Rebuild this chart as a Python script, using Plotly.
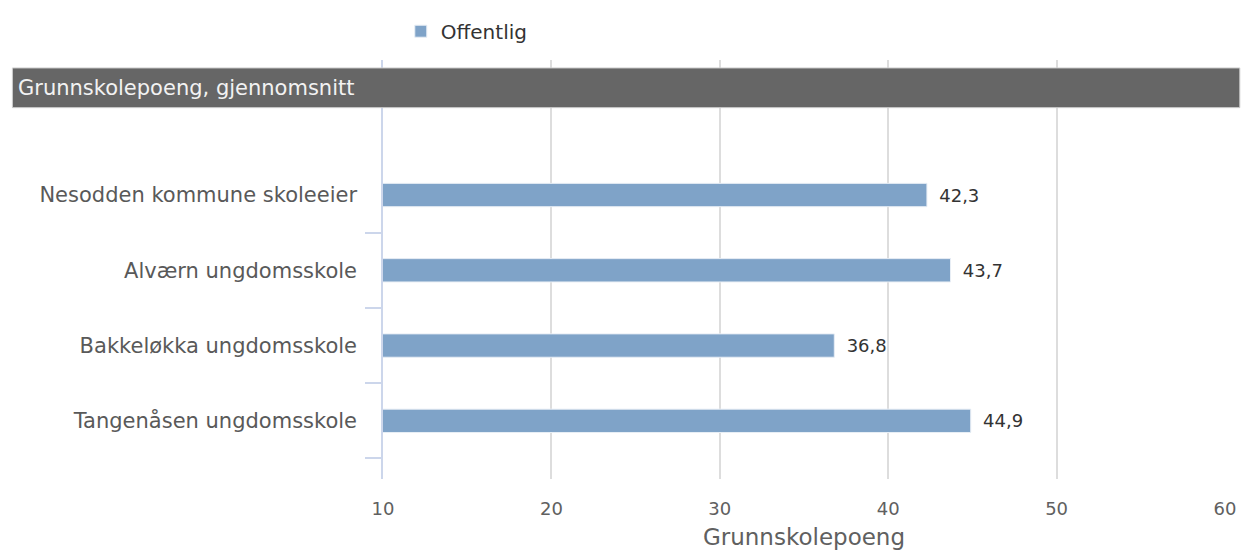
import plotly.graph_objects as go

categories = [
    "Nesodden kommune skoleeier",
    "Alværn ungdomsskole",
    "Bakkeløkka ungdomsskole",
    "Tangenåsen ungdomsskole",
]
values = [42.3, 43.7, 36.8, 44.9]
series_name = "Offentlig"
x_ticks = [10, 20, 30, 40, 50, 60]
header_text = "Grunnskolepoeng, gjennomsnitt"
x_title = "Grunnskolepoeng"

positions = list(range(len(categories)))
boundaries = [p + 0.5 for p in positions]

FONT = "DejaVu Sans"
W, H = 1248, 559
ml, mr, mt, mb = 383, 13, 57, 80
pw, ph = W - ml - mr, H - mt - mb


def px_x(px):
    return (px - ml) / pw


def px_y(py):
    return (H - mb - py) / ph


fig = go.Figure()
fig.add_trace(go.Bar(
    x=values,
    y=positions,
    orientation="h",
    name=series_name,
    width=0.31,
    marker=dict(color="#7fa3c8", line=dict(color="#e8eef5", width=1)),
    texttemplate="\u00a0\u2009%{x:.1f}",
    textposition="outside",
    textfont=dict(family=FONT, size=18, color="#333333"),
    cliponaxis=False,
    hoverinfo="skip",
))

fig.update_layout(
    width=W, height=H,
    margin=dict(l=ml, r=mr, t=mt, b=mb),
    paper_bgcolor="white",
    plot_bgcolor="white",
    separators=",.",
    showlegend=True,
    legend=dict(
        orientation="h",
        x=px_x(401), xanchor="left",
        y=px_y(28), yanchor="middle",
        font=dict(family=FONT, size=20, color="#333333"),
        bgcolor="rgba(0,0,0,0)",
    ),
    xaxis=dict(
        range=[10, 60],
        tickvals=x_ticks,
        tickfont=dict(family=FONT, size=18, color="#606060"),
        showgrid=True,
        gridcolor="#dddddd",
        gridwidth=1.5,
        zeroline=False,
        showline=False,
        ticks="",
        ticklabelstandoff=17,
        title=dict(text=x_title, font=dict(family=FONT, size=23, color="#606060"), standoff=10),
    ),
    yaxis=dict(
        range=[3.773, -1.794],
        tickvals=positions,
        ticktext=categories,
        tickfont=dict(family=FONT, size=21, color="#595959"),
        ticks="",
        showgrid=False,
        zeroline=False,
        showline=True,
        linecolor="#ccd6eb",
        linewidth=1.5,
        ticklabelstandoff=20,
        minor=dict(
            tickvals=boundaries,
            ticks="outside",
            ticklen=16,
            tickcolor="#ccd6eb",
            tickwidth=1.5,
            showgrid=False,
        ),
    ),
    shapes=[dict(
        type="rect", xref="paper", yref="paper",
        x0=px_x(8), x1=px_x(1250), y0=px_y(105), y1=px_y(65),
        fillcolor="#666666", line=dict(color="#cfcfcf", width=1),
        layer="above",
    )],
    annotations=[dict(
        text=header_text, xref="paper", yref="paper",
        x=px_x(12), y=px_y(85), xanchor="left", yanchor="middle",
        showarrow=False,
        font=dict(family=FONT, size=21, color="#f2f2f2"),
    )],
)

fig.write_html(
    "out.html",
    config={"displayModeBar": False},
    post_script="document.body.style.margin='0';document.body.style.padding='0';",
)
